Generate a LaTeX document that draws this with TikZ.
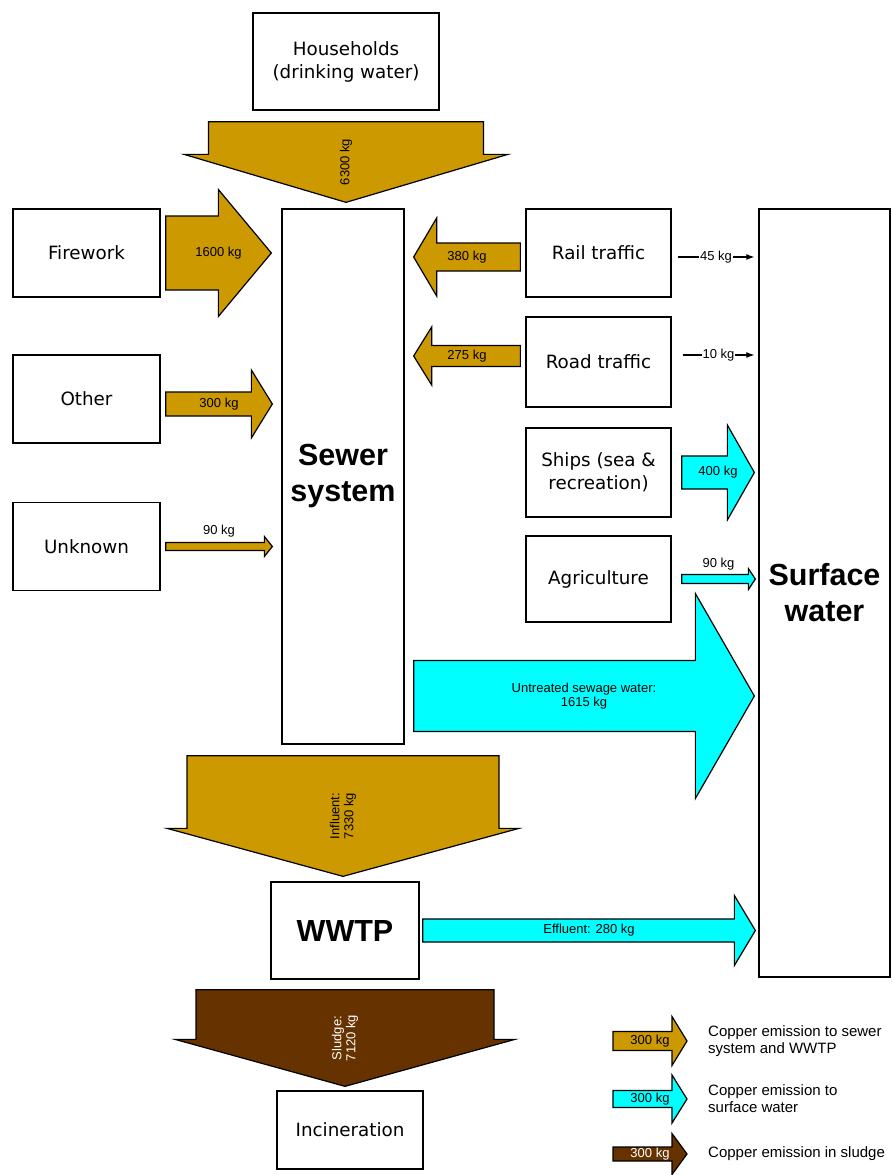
\documentclass[tikz,border=0pt]{standalone}
\usepackage{fontspec}
\setmainfont{Liberation Sans}
\newfontfamily\boxfont{DejaVu Sans}
\usetikzlibrary{calc,arrows.meta}

\definecolor{copper}{RGB}{204,153,0}
\definecolor{water}{RGB}{0,255,255}
\definecolor{sludge}{RGB}{102,51,0}

\tikzset{
  box/.style={draw, line width=1.3pt, align=center, inner sep=2pt,
    font=\boxfont\fontsize{18.3}{23}\selectfont},
  sidebox/.style={box, minimum width=147pt, minimum height=88pt},
  srcbox/.style={box, minimum width=145pt, minimum height=88pt},
  bigbox/.style={box, font=\bfseries\fontsize{30.5}{36}\selectfont},
  flow/.style={draw, line width=1.2pt, line join=miter},
  lbl/.style={font=\fontsize{13}{14}\selectfont, inner sep=1pt, align=center},
  legend/.style={font=\fontsize{15}{17}\selectfont, align=left, anchor=west, inner sep=0pt},
  thin/.style={line width=1.1pt, -{Latex[length=8pt,width=6pt]}},
}

% block arrows: tail, tip, half shaft, half head, head length, label node
\newcommand{\flowh}[7][]{%
  \draw[flow,#1] ($#2+(0,#4)$) -- ($#3+({-(#6)},#4)$) -- ($#3+({-(#6)},#5)$) -- #3
    -- ($#3+({-(#6)},-#5)$) -- ($#3+({-(#6)},-#4)$) -- ($#2+(0,-#4)$) -- cycle;
  \path ($#2!.5!#3$) #7;}
\newcommand{\flowv}[7][]{%
  \draw[flow,#1] ($#2+(#4,0)$) -- ($#3+(#4,-#6)$) -- ($#3+(#5,-#6)$) -- #3
    -- ($#3+(-#5,-#6)$) -- ($#3+(-#4,-#6)$) -- ($#2+(-#4,0)$) -- cycle;
  \path ($#2!.5!#3$) #7;}

\begin{document}
\begin{tikzpicture}[x=1pt, y=-1pt]
  \path[fill=white, use as bounding box] (0,0) rectangle (893,1175);

  % boxes
  \node[box, minimum width=186pt, minimum height=97pt] (house) at (346,61.5) {Households\\(drinking water)};
  \node[bigbox, minimum width=122pt, minimum height=535pt] (sewer) at (343,476.5) {Sewer\\system};
  \node[sidebox] (fw) at (86.5,253) {Firework};
  \node[sidebox] (other) at (86.5,399) {Other};
  \node[sidebox] (unknown) at (86.5,546.5) {Unknown};
  \node[srcbox] (rail) at (598.5,253) {Rail traffic};
  \node[srcbox, minimum height=90pt] (road) at (598.5,362) {Road traffic};
  \node[srcbox, minimum height=89pt] (ships) at (598.5,472.5) {Ships (sea \&\\recreation)};
  \node[srcbox, minimum height=86pt] (agri) at (598.5,579) {Agriculture};
  \node[bigbox, minimum width=131pt, minimum height=768pt] (surface) at (824.5,593) {Surface\\water};
  \node[bigbox, minimum width=148pt, minimum height=97pt] (wwtp) at (345,930.5) {WWTP};
  \node[box, minimum width=146pt, minimum height=78pt] (incin) at (350,1130) {Incineration};

  % flows into the sewer system
  \flowv[fill=copper]{([yshift=-11]house.south)}{([yshift=6]house.south |- sewer.north)}{137.5}{162}{48}{node[lbl, rotate=90]{6300 kg}};
  \flowh[fill=copper]{([xshift=5]fw.east)}{([xshift=-10]sewer.west |- fw.east)}{37}{63.5}{53}{node[lbl]{1600 kg}};
  \flowh[fill=copper]{([xshift=5,yshift=-5]other.east)}{([xshift=-9,yshift=-5]sewer.west |- other.east)}{12}{34}{21}{node[lbl]{300 kg}};
  \flowh[fill=copper]{([xshift=5]unknown.east)}{([xshift=-9]sewer.west |- unknown.east)}{4}{10}{8}{node[lbl, above=8pt]{90 kg}};
  \flowh[fill=copper]{([xshift=-5,yshift=-4]rail.west)}{([xshift=9,yshift=-4]sewer.east |- rail.west)}{14}{39}{-23}{node[lbl]{380 kg}};
  \flowh[fill=copper]{([xshift=-5,yshift=6]road.west)}{([xshift=9,yshift=6]sewer.east |- road.west)}{10.5}{29}{-18}{node[lbl]{275 kg}};

  % flows to surface water
  \draw[thin] ([xshift=6,yshift=-4]rail.east) -- node[lbl, fill=white]{45 kg} ([xshift=-4,yshift=-4]surface.west |- rail.east);
  \draw[thin] ([xshift=11,yshift=7]road.east) -- node[lbl, fill=white]{10 kg} ([xshift=-4,yshift=7]surface.west |- road.east);
  \flowh[fill=water]{([xshift=10]ships.east)}{([xshift=-4]surface.west |- ships.east)}{16.5}{47.5}{27}{node[lbl]{400 kg}};
  \flowh[fill=water]{([xshift=10]agri.east)}{([xshift=-3]surface.west |- agri.east)}{4.5}{10.5}{7}{node[lbl, above=8pt]{90 kg}};
  \coordinate (untreated) at ([xshift=9,yshift=-219.5]sewer.east);
  \flowh[fill=water]{(untreated)}{([xshift=-4]surface.west |- untreated)}{35.5}{102.5}{59}{node[lbl]{Untreated sewage water:\\1615 kg}};

  % treatment plant
  \flowv[fill=copper]{([yshift=-11]sewer.south)}{([yshift=5]sewer.south |- wwtp.north)}{156}{176}{48}{node[lbl, rotate=90]{Influent:\\7330 kg}};
  \flowh[fill=water]{([xshift=3]wwtp.east)}{([xshift=-3]surface.west |- wwtp.east)}{11.5}{35}{21}{node[lbl]{Effluent: 280 kg}};
  \flowv[fill=sludge]{([yshift=-10]wwtp.south)}{([yshift=4]wwtp.south |- incin.north)}{149}{170}{47}{node[lbl, rotate=90, text=white]{Sludge:\\7120 kg}};

  % legend
  \node[legend] (lgsewer) at (708,1041) {Copper emission to sewer\\system and WWTP};
  \node[legend] (lgwater) at (708,1099) {Copper emission to\\surface water};
  \node[legend] (lgsludge) at (708,1154) {Copper emission in sludge};
  \flowh[fill=copper]{([xshift=-95]lgsewer.west)}{([xshift=-21]lgsewer.west)}{9.5}{24.5}{15}{node[lbl]{300 kg}};
  \flowh[fill=water]{([xshift=-95]lgwater.west)}{([xshift=-21]lgwater.west)}{8.5}{24}{15}{node[lbl]{300 kg}};
  \flowh[fill=sludge]{([xshift=-95]lgsludge.west)}{([xshift=-21]lgsludge.west)}{7}{20.5}{15}{node[lbl, text=white]{300 kg}};
\end{tikzpicture}
\end{document}
